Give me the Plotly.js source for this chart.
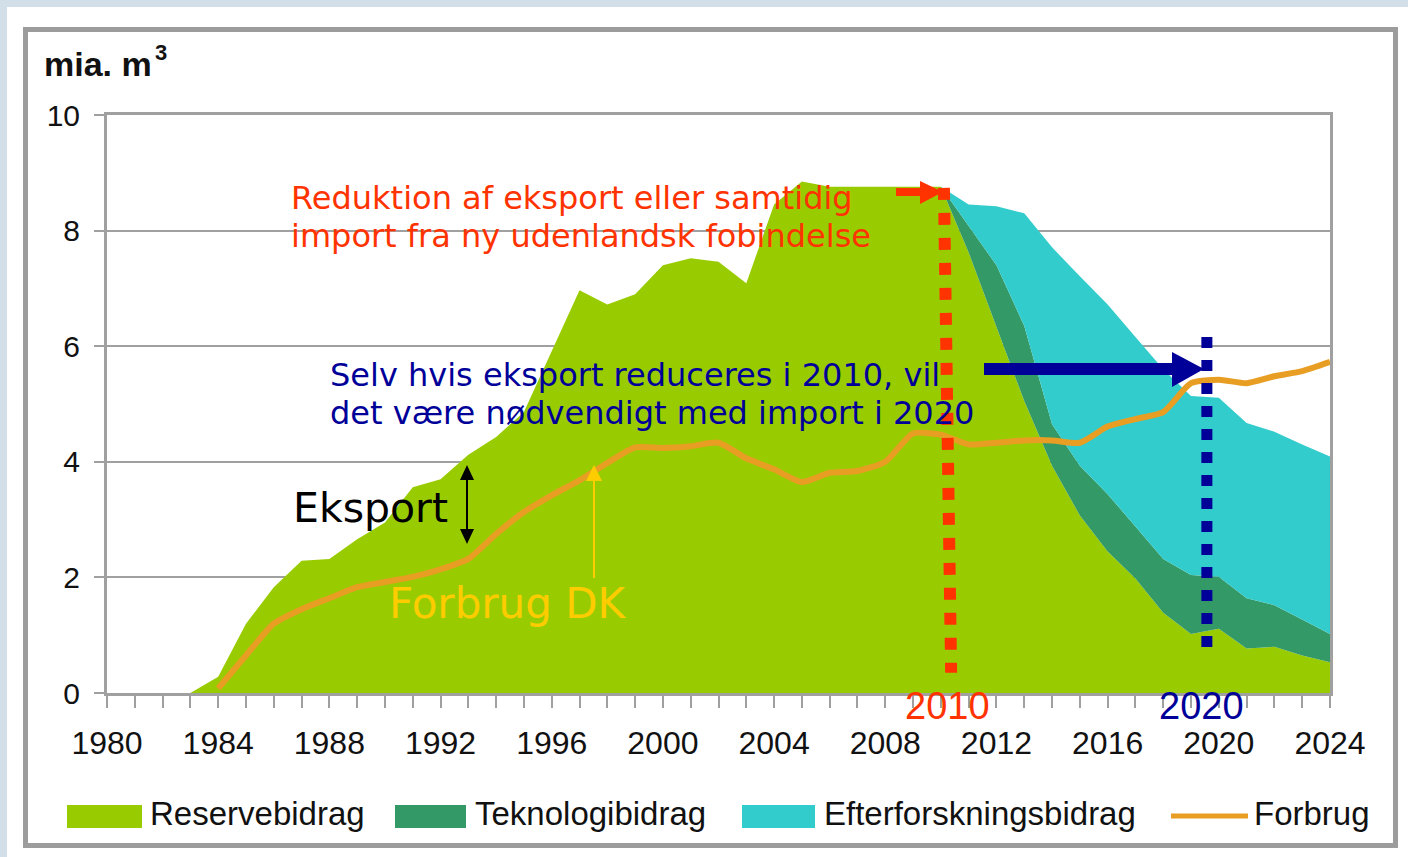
<!DOCTYPE html>
<html><head><meta charset="utf-8">
<script src="https://cdn.plot.ly/plotly-3.0.1.min.js"></script>
<style>
html,body{margin:0;padding:0;background:#fff;}
#wrap{position:relative;width:1408px;height:857px;overflow:hidden;background:#fff;}
#bandTop{position:absolute;left:0;top:0;width:1408px;height:7px;background:#D3DFE8;}
#bandLeft{position:absolute;left:0;top:0;width:7px;height:857px;background:#D3DFE8;}
#frame{position:absolute;left:23px;top:27px;width:1375px;height:821px;border:5px solid #9C9C9C;box-sizing:border-box;}
#chart{position:absolute;left:0;top:0;width:1408px;height:857px;}
</style></head>
<body>
<div id="wrap"><div id="bandTop"></div><div id="bandLeft"></div><div id="frame"></div><div id="chart"></div></div>
<script>
// ---------- data (mia. m3) ----------
const years = [1983,1984,1985,1986,1987,1988,1989,1990,1991,1992,1993,1994,1995,1996,1997,1998,1999,2000,2001,2002,2003,2004,2005,2006,2007,2008,2009,2010,2011,2012,2013,2014,2015,2016,2017,2018,2019,2020,2021,2022,2023,2024];
const reservebidrag = [0,0.28,1.2,1.83,2.29,2.32,2.66,2.95,3.56,3.7,4.12,4.43,4.86,5.9,6.97,6.72,6.9,7.4,7.52,7.46,7.09,8.45,8.85,8.76,8.76,8.76,8.76,8.76,7.62,6.35,5.05,3.93,3.07,2.45,1.98,1.39,1.02,1.11,0.77,0.8,0.65,0.53];
const teknologibidrag = [0,0,0,0,0,0,0,0,0,0,0,0,0,0,0,0,0,0,0,0,0,0,0,0,0,0,0,0,0.46,1.05,1.3,0.72,0.86,0.99,0.9,0.93,1.02,0.9,0.87,0.72,0.62,0.49];
const efterforskningsbidrag = [0,0,0,0,0,0,0,0,0,0,0,0,0,0,0,0,0,0,0,0,0,0,0,0,0,0,0,0,0.37,1.02,1.95,3.06,3.28,3.28,3.28,3.28,3.1,3.1,3.03,3.0,3.03,3.07];
const forbrug = [null,0.08,0.65,1.2,1.45,1.64,1.83,1.92,2.01,2.14,2.32,2.75,3.13,3.42,3.68,3.98,4.25,4.24,4.27,4.33,4.06,3.87,3.65,3.81,3.84,4.0,4.49,4.47,4.3,4.33,4.37,4.37,4.33,4.61,4.74,4.86,5.36,5.42,5.36,5.48,5.57,5.73];
const legendLabels = ['Reservebidrag','Teknologibidrag','Efterforskningsbidrag','Forbrug'];
const xTickYears = [1980,2024];

// ---------- styling ----------
const C_RES = '#99CC00', C_TEK = '#339966', C_EFT = '#33CCCC', C_FOR = '#E89E22';
const RED = '#FF3300', BLUE = '#000099', YEL = '#FFCC00';
const GRID = '#A0A0A0';
const L = 107, T = 115, W = 1223, H = 578;
const px = x => (x - L) / W;
const py = y => (T + H - y) / H;
const TXT = 'DejaVu Sans, Verdana, sans-serif';
const ARIAL = 'Liberation Sans, Arial, sans-serif';

const traces = [
  {x: years, y: reservebidrag, name: legendLabels[0], type: 'scatter', mode: 'lines', stackgroup: 'one', line: {width: 0}, fillcolor: C_RES},
  {x: years, y: teknologibidrag, name: legendLabels[1], type: 'scatter', mode: 'lines', stackgroup: 'one', line: {width: 0}, fillcolor: C_TEK},
  {x: years, y: efterforskningsbidrag, name: legendLabels[2], type: 'scatter', mode: 'lines', stackgroup: 'one', line: {width: 0}, fillcolor: C_EFT},
  {x: years, y: forbrug, name: legendLabels[3], type: 'scatter', mode: 'lines', line: {color: C_FOR, width: 6, shape: 'spline', smoothing: 0.6}}
];

const txt = (x, y, text, font, xanchor) => ({xref: 'paper', yref: 'paper', x: px(x), y: py(y), text, font, xanchor: xanchor || 'left', yanchor: 'middle', showarrow: false});

const annotations = [
  txt(42, 64, 'mia. m', {family: ARIAL, size: 34, color: '#111', weight: 'bold'}),
  txt(153, 53, '3', {family: ARIAL, size: 22, color: '#111', weight: 'bold'}),
  txt(289, 198, 'Reduktion af eksport eller samtidig', {family: TXT, size: 32, color: RED}),
  txt(289, 236, 'import fra ny udenlandsk fobindelse', {family: TXT, size: 32, color: RED}),
  txt(328, 375, 'Selv hvis eksport reduceres i 2010, vil', {family: TXT, size: 32, color: BLUE}),
  txt(328, 413, 'det være nødvendigt med import i 2020', {family: TXT, size: 32, color: BLUE}),
  txt(291, 508, 'Eksport', {family: TXT, size: 41, color: '#000'}),
  txt(387, 603, 'Forbrug DK', {family: TXT, size: 42, color: YEL}),
  txt(947, 706, '2010', {family: ARIAL, size: 38, color: RED}, 'center'),
  txt(1201, 706, '2020', {family: ARIAL, size: 38, color: BLUE}, 'center'),
  txt(148, 813, legendLabels[0], {family: ARIAL, size: 33, color: '#111'}),
  txt(473, 813, legendLabels[1], {family: ARIAL, size: 33, color: '#111'}),
  txt(822, 813, legendLabels[2], {family: ARIAL, size: 33, color: '#111'}),
  txt(1252, 813, legendLabels[3], {family: ARIAL, size: 33, color: '#111'})
];

// pixel-space helpers for decorative shapes
const pline = (x0, y0, x1, y1, color, width, dash) => ({type: 'line', xref: 'paper', yref: 'paper', x0: px(x0), y0: py(y0), x1: px(x1), y1: py(y1), line: {color, width, dash: dash || 'solid'}, layer: 'above'});
const ptri = (pts, color) => ({type: 'path', xref: 'paper', yref: 'paper', path: 'M' + pts.map(p => px(p[0]) + ',' + py(p[1])).join('L') + 'Z', fillcolor: color, line: {width: 0}, layer: 'above'});
const rect = (x0, y0, x1, y1, color) => ({type: 'rect', xref: 'paper', yref: 'paper', x0: px(x0), x1: px(x1), y0: py(y1), y1: py(y0), fillcolor: color, line: {width: 0}});

const shapes = [
  {type: 'line', xref: 'x', yref: 'y', x0: 2010.11, y0: 8.74, x1: 2010.37, y1: 0.35, line: {color: RED, width: 12, dash: '12px,13px'}, layer: 'above'},
  {type: 'line', xref: 'x', yref: 'y', x0: 2019.57, y0: 6.16, x1: 2019.57, y1: 0.64, line: {color: BLUE, width: 11, dash: '11px,12px'}, layer: 'above'},
  pline(896, 192, 922, 192, RED, 8),
  ptri([[920, 181], [943, 192], [920, 204]], RED),
  pline(984, 369, 1174, 369, BLUE, 12),
  ptri([[1172, 352], [1204, 369], [1172, 387]], BLUE),
  pline(467, 477, 467, 532, '#000', 2),
  ptri([[460, 480], [467, 465], [474, 480]], '#000'),
  ptri([[460, 529], [467, 544], [474, 529]], '#000'),
  pline(594, 578, 594, 478, YEL, 2),
  ptri([[586, 481], [594, 465], [602, 481]], YEL),
  rect(67, 805, 142, 828, C_RES),
  rect(395, 805, 466, 828, C_TEK),
  rect(742, 805, 815, 828, C_EFT),
  pline(1171, 816, 1248, 816, C_FOR, 5)
];

const layout = {
  width: 1408, height: 857,
  margin: {l: L, r: 1408 - L - W, t: T, b: 857 - T - H, pad: 0},
  paper_bgcolor: 'rgba(0,0,0,0)', plot_bgcolor: '#fff',
  showlegend: false,
  xaxis: {
    range: xTickYears, tick0: 1980, dtick: 4, ticks: 'outside', ticklen: 12, tickwidth: 2, tickcolor: GRID,
    showgrid: false, showline: true, linecolor: GRID, linewidth: 3, mirror: true, zeroline: false,
    tickfont: {family: ARIAL, size: 32, color: '#111'}, ticklabelstandoff: 8,
    minor: {dtick: 1, tick0: 1980, ticks: 'outside', ticklen: 12, tickwidth: 2, tickcolor: GRID, showgrid: false},
    fixedrange: true
  },
  yaxis: {
    range: [0, 10], dtick: 2, ticks: 'outside', ticklen: 10, tickwidth: 2, tickcolor: GRID,
    showgrid: true, gridcolor: GRID, gridwidth: 2, showline: true, linecolor: GRID, linewidth: 3, mirror: true, zeroline: false,
    tickfont: {family: ARIAL, size: 30, color: '#111'}, ticklabelstandoff: 8, fixedrange: true
  },
  annotations, shapes
};

Plotly.newPlot('chart', traces, layout, {staticPlot: true, displayModeBar: false}).then(gd => {
  gd.querySelectorAll('text').forEach(t => { if (!t.textContent.trim()) t.remove(); });
});
</script>
</body></html>
